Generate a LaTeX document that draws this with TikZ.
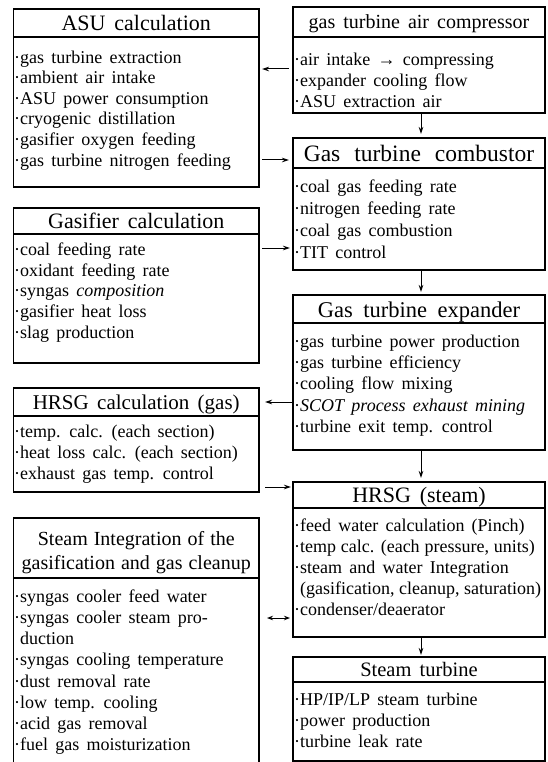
\documentclass[tikz,border=0pt]{standalone}
\usepackage{fontspec}
\setmainfont[WordSpace=1.6]{Liberation Serif}
\usetikzlibrary{arrows.meta}
\newcommand\firstln{\rule{0pt}{15pt}}
\newcommand\itemdot{\llap{·}}
\newcommand\wsp[1]{\spaceskip=#1\relax}
\begin{document}
\begin{tikzpicture}[x=1pt,y=-1pt,
  frame/.style={draw, line width=1.3pt, inner sep=0pt, outer sep=0pt, anchor=north west},
  leftbox/.style={frame, minimum width=245.5pt},
  rightbox/.style={frame, minimum width=252pt},
  sepline/.style={line width=1.1pt},
  ttl/.style={font=\fontsize{#1}{24pt}\selectfont, inner sep=0pt, anchor=base},
  ttl/.default=22pt,
  body/.style={font=\fontsize{18pt}{#1}\selectfont, align=left, anchor=north west, inner sep=0pt},
  arr/.style={line width=1pt, -{Stealth[length=7pt,width=4.5pt]}},
  dblarr/.style={line width=1pt, {Stealth[length=6pt,width=4.5pt]}-{Stealth[length=6pt,width=4.5pt]}},
]
\useasboundingbox (0,0) rectangle (548,762);
\clip (0,0) rectangle (548,762);

% ---------- left column ----------
\node[leftbox, minimum height=178pt] (asu) at (13.5,9) {};
\draw[sepline] (asu.west |- 0,37) -- (asu.east |- 0,37);
\node[ttl] (asut) at (136.25,31) {ASU calculation};
\node[body=20.6pt] (asub) at (20,48) {\firstln\itemdot gas turbine extraction\\
\itemdot ambient air intake\\
\itemdot ASU power consumption\\
\itemdot cryogenic distillation\\
\itemdot gasifier oxygen feeding\\
\itemdot gas turbine nitrogen feeding};

\node[leftbox, minimum height=155pt] (gas) at (13.5,208) {};
\draw[sepline] (gas.west |- 0,234) -- (gas.east |- 0,234);
\node[ttl] (gast) at (136.25,228) {Gasifier calculation};
\node[body=20.8pt] (gasb) at (20,240) {\firstln\itemdot coal feeding rate\\
\itemdot oxidant feeding rate\\
\itemdot syngas \textit{composition}\\
\itemdot gasifier heat loss\\
\itemdot slag production};

\node[leftbox, minimum height=104pt] (hrsgg) at (13.5,388) {};
\draw[sepline] (hrsgg.west |- 0,416) -- (hrsgg.east |- 0,416);
\node[ttl=21pt] (hrsggt) at (136.25,409.5) {HRSG calculation (gas)};
\node[body=21pt] (hrsggb) at (20,422) {\firstln\itemdot temp. calc. (each section)\\
\itemdot heat loss calc. (each section)\\
\itemdot exhaust gas temp. control};

\node[leftbox, minimum height=262pt] (stint) at (13.5,518) {};
\draw[sepline] (stint.west |- 0,578) -- (stint.east |- 0,578);
\node[align=center, anchor=north, inner sep=0pt, font=\fontsize{20pt}{24pt}\selectfont] (stintt) at (136.25,530) {\wsp{6pt}\rule{0pt}{15pt}Steam Integration of the\\\wsp{6pt}gasification and gas cleanup};
\node[body=21.2pt] (stintb) at (20,587) {\firstln\itemdot syngas cooler feed water\\
\itemdot syngas cooler steam pro-\\
duction\\
\itemdot syngas cooling temperature\\
\itemdot dust removal rate\\
\itemdot low temp. cooling\\
\itemdot acid gas removal\\
\itemdot fuel gas moisturization};

% ---------- right column ----------
\node[rightbox, minimum height=106pt] (comp) at (293,7) {};
\draw[sepline] (comp.west |- 0,37) -- (comp.east |- 0,37);
\node[ttl=20pt] (compt) at (419,29) {gas turbine air compressor};
\node[body=21pt] (compb) at (300,50) {\firstln\itemdot air intake → compressing\\
\itemdot expander cooling flow\\
\itemdot ASU extraction air};

\node[rightbox, minimum height=132pt] (comb) at (293,138) {};
\draw[sepline] (comb.west |- 0,168) -- (comb.east |- 0,168);
\node[ttl=23.5pt] (combt) at (419,162) {\wsp{14pt}Gas turbine combustor};
\node[body=22pt] (combb) at (300,177) {\firstln\itemdot coal gas feeding rate\\
\itemdot nitrogen feeding rate\\
\itemdot coal gas combustion\\
\itemdot TIT control};

\node[rightbox, minimum height=155pt] (exp) at (293,295) {};
\draw[sepline] (exp.west |- 0,323) -- (exp.east |- 0,323);
\node[ttl=22.5pt] (expt) at (419,317) {\wsp{10.5pt}Gas turbine expander};
\node[body=21.3pt] (expb) at (300,332) {\firstln\itemdot gas turbine power production\\
\itemdot gas turbine efficiency\\
\itemdot cooling flow mixing\\
\itemdot \textit{SCOT process exhaust mining}\\
\itemdot turbine exit temp. control};

\node[rightbox, minimum height=155pt] (hrsgs) at (293,482) {};
\draw[sepline] (hrsgs.west |- 0,508) -- (hrsgs.east |- 0,508);
\node[ttl] (hrsgst) at (419,502) {HRSG (steam)};
\node[body=21pt] (hrsgsb) at (300,516) {\firstln\itemdot feed water calculation (Pinch)\\
\itemdot {\wsp{4.8pt}temp calc. (each pressure, units)}\\
\itemdot steam and water Integration\\
{\wsp{4.5pt}(gasification, cleanup, saturation)}\\
\itemdot condenser/deaerator};

\node[rightbox, minimum height=104pt] (st) at (293,657) {};
\draw[sepline] (st.west |- 0,682) -- (st.east |- 0,682);
\node[ttl=20.5pt] (stt) at (419,676.5) {Steam turbine};
\node[body=21pt] (stb) at (300,690) {\firstln\itemdot HP/IP/LP steam turbine\\
\itemdot power production\\
\itemdot turbine leak rate};

% ---------- connectors ----------
\draw[arr, shorten <=4pt, shorten >=3pt] (comp.west |- 0,69) -- (asu.east |- 0,69);
\draw[arr, shorten <=3pt, shorten >=4pt] (asu.east |- 0,160) -- (comb.west |- 0,160);
\draw[arr, shorten <=3pt, shorten >=3pt] (gas.east |- 0,248) -- (comb.west |- 0,248);
\draw[arr, shorten <=1pt, shorten >=6pt] (exp.west |- 0,402) -- (hrsgg.east |- 0,402);
\draw[arr, shorten <=6pt, shorten >=2pt] (hrsgg.east |- 0,487) -- (hrsgs.west |- 0,487);
\draw[dblarr, shorten <=8pt, shorten >=3pt] (stint.east |- 0,618) -- (hrsgs.west |- 0,618);
\draw[arr, shorten >=4pt] (comp.south -| 421,0) -- (comb.north -| 421,0);
\draw[arr, shorten >=3pt] (comb.south -| 421,0) -- (exp.north -| 421,0);
\draw[arr, shorten >=4pt] (exp.south -| 421,0) -- (hrsgs.north -| 421,0);
\draw[arr, shorten >=2pt] (hrsgs.south -| 421,0) -- (st.north -| 421,0);
\end{tikzpicture}
\end{document}
